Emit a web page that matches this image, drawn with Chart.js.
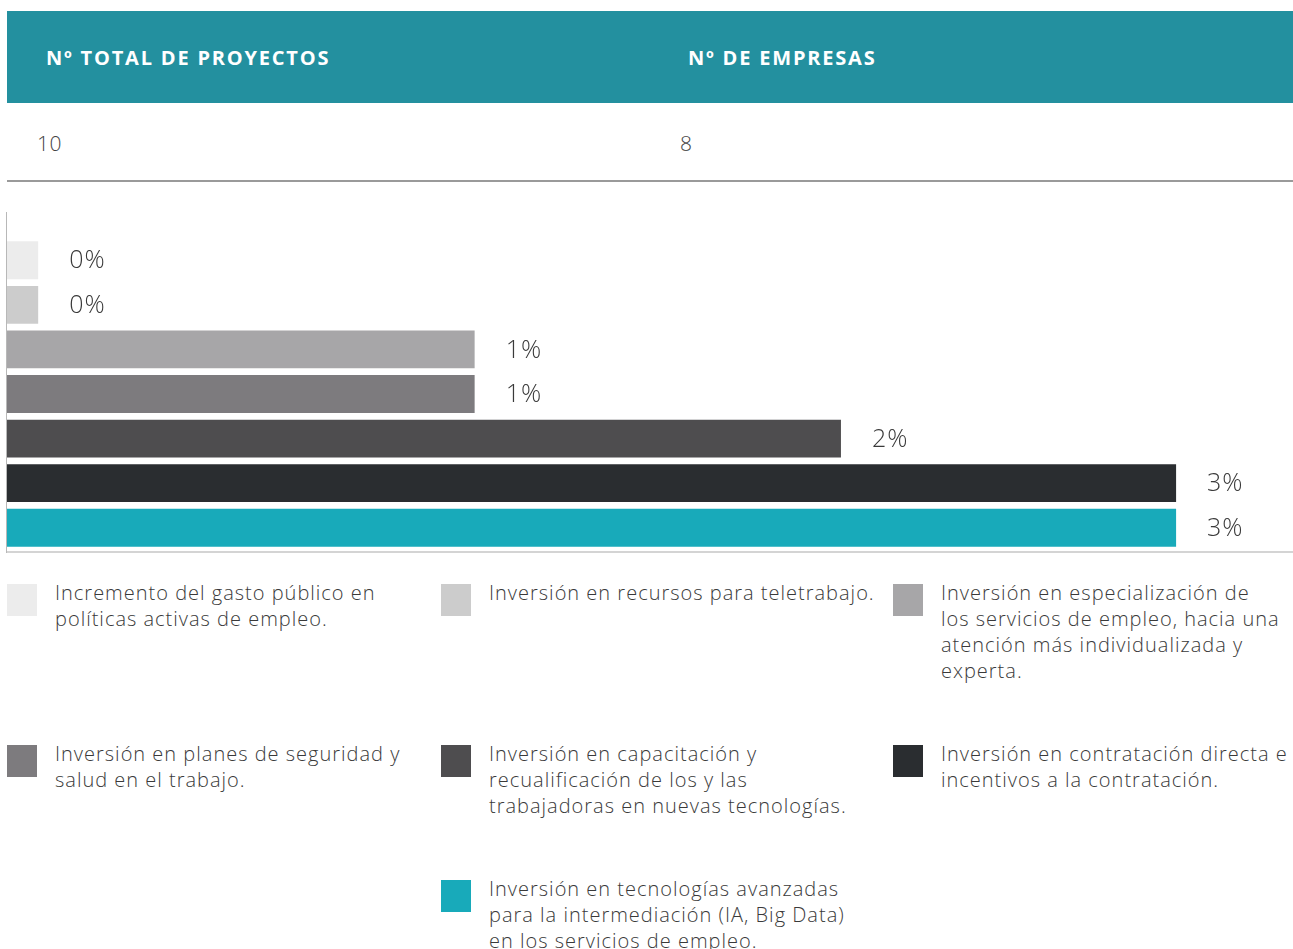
<!DOCTYPE html>
<html lang="es">
<head>
<meta charset="utf-8">
<title>Proyectos por tipo de inversión</title>
<script src="https://cdn.jsdelivr.net/npm/chart.js@4/dist/chart.umd.min.js"></script>
<style>
  html, body { margin: 0; padding: 0; background: #fff; }
  body { width: 1293px; height: 949px; position: relative; overflow: hidden;
         font-family: "Open Sans", sans-serif; color: #3a3a3a; }
  .band { position: absolute; left: 7px; top: 11px; width: 1286px; height: 92px; background: #23909f; }
  .band span { position: absolute; top: 1px; line-height: 92px; color: #fff; font-weight: 700;
               font-size: 20px; letter-spacing: 1.8px; }
  .totals span { position: absolute; top: 128px; line-height: 30px; font-size: 21px; font-weight: 300;
                 color: #444; letter-spacing: 0.5px; }
  .rule { position: absolute; left: 7px; top: 180px; width: 1286px; height: 2px; background: #9a9a9a; }
  .chart-box { position: absolute; left: 0; top: 200px; width: 1293px; height: 360px; }
  #legend { position: absolute; left: 7px; top: 580px; width: 1286px; display: grid;
            grid-template-columns: 434px 452px 400px; grid-template-rows: 161px 135px auto; }
  .item { position: relative; padding-left: 48px; font-size: 20px; line-height: 26px; font-weight: 300;
          letter-spacing: 1px; }
  .item i { position: absolute; left: 0; top: 4px; width: 30px; height: 32px; }
  .item div { white-space: nowrap; }
</style>
</head>
<body>
<div class="band"><span id="h1" style="left:39px"></span><span id="h2" style="left:681px"></span></div>
<div class="totals"><span id="v1" style="left:37px"></span><span id="v2" style="left:680px"></span></div>
<div class="rule"></div>
<div class="chart-box"><canvas id="investChart"></canvas></div>
<div id="legend"></div>

<script>
var headers = ['Nº TOTAL DE PROYECTOS', 'Nº DE EMPRESAS'];
var totals = [10, 8];

var categories = [
    ['Incremento del gasto público en', 'políticas activas de empleo.'],
    ['Inversión en recursos para teletrabajo.'],
    ['Inversión en especialización de', 'los servicios de empleo, hacia una', 'atención más individualizada y', 'experta.'],
    ['Inversión en planes de seguridad y', 'salud en el trabajo.'],
    ['Inversión en capacitación y', 'recualificación de los y las', 'trabajadoras en nuevas tecnologías.'],
    ['Inversión en contratación directa e', 'incentivos a la contratación.'],
    ['Inversión en tecnologías avanzadas', 'para la intermediación (IA, Big Data)', 'en los servicios de empleo.']
];
var shares = [0.08, 0.08, 1.2, 1.2, 2.14, 3.0, 3.0];
var barColors = ['#ececec', '#cccccc', '#a7a6a8', '#7d7b7e', '#4e4d4f', '#2a2d30', '#18aaba'];

document.getElementById('h1').textContent = headers[0];
document.getElementById('h2').textContent = headers[1];
document.getElementById('v1').textContent = totals[0];
document.getElementById('v2').textContent = totals[1];

// left axis (runs a bit above the first bar) and light baseline
var axisLines = {
    id: 'axisLines',
    beforeDatasetsDraw: function (chart) {
        var ctx = chart.ctx, a = chart.chartArea;
        ctx.save();
        ctx.strokeStyle = '#b8b8b8';
        ctx.lineWidth = 1;
        ctx.beginPath();
        ctx.moveTo(a.left - 0.5, 12);
        ctx.lineTo(a.left - 0.5, a.bottom + 3);
        ctx.stroke();
        ctx.strokeStyle = '#d4d4d4';
        ctx.lineWidth = 2;
        ctx.beginPath();
        ctx.moveTo(a.left, a.bottom + 2);
        ctx.lineTo(a.right, a.bottom + 2);
        ctx.stroke();
        ctx.restore();
    }
};

// percentage next to each bar
var valueLabels = {
    id: 'valueLabels',
    afterDatasetsDraw: function (chart) {
        var ctx = chart.ctx;
        var meta = chart.getDatasetMeta(0);
        ctx.save();
        ctx.font = '300 25px "Open Sans", sans-serif';
        ctx.letterSpacing = '1px';
        ctx.fillStyle = '#3a3a3a';
        ctx.textBaseline = 'middle';
        ctx.textAlign = 'left';
        meta.data.forEach(function (bar, i) {
            ctx.fillText(Math.round(shares[i]) + '%', bar.x + 31, bar.y + 1);
        });
        ctx.restore();
    }
};

var chart = new Chart(document.getElementById('investChart'), {
    type: 'bar',
    data: {
        labels: categories,
        datasets: [{
            data: shares,
            backgroundColor: barColors,
            barPercentage: 0.85,
            categoryPercentage: 1
        }]
    },
    options: {
        indexAxis: 'y',
        responsive: true,
        maintainAspectRatio: false,
        animation: false,
        layout: { padding: { left: 7, right: 0, top: 38, bottom: 10 } },
        scales: {
            x: { display: false, min: 0, max: 3.3 },
            y: { display: false }
        },
        plugins: { legend: { display: false }, tooltip: { enabled: false } }
    },
    plugins: [axisLines, valueLabels]
});

// legend in three columns, built from the chart's own labels and colours
var legend = document.getElementById('legend');
chart.data.labels.forEach(function (lines, i) {
    var item = document.createElement('div');
    item.className = 'item';
    if (i === 6) { item.style.gridColumn = '2'; }
    var sw = document.createElement('i');
    sw.style.background = chart.data.datasets[0].backgroundColor[i];
    item.appendChild(sw);
    lines.forEach(function (t) {
        var d = document.createElement('div');
        d.textContent = t;
        item.appendChild(d);
    });
    legend.appendChild(item);
});
</script>
</body>
</html>
